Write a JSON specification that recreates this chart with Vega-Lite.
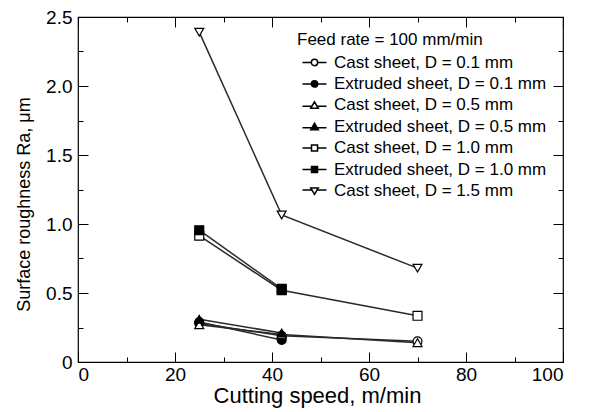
{
  "$schema": "https://vega.github.io/schema/vega-lite/v6.json",
  "width": 485,
  "height": 345,
  "autosize": {"type": "none"},
  "padding": {"left": 78, "top": 17, "right": 32, "bottom": 50},
  "background": "white",
  "config": {
    "font": "Liberation Sans",
    "view": {"stroke": "black", "strokeWidth": 1.2},
    "axis": {"domainColor": "black", "tickColor": "black", "labelColor": "black", "titleColor": "black", "labelFontSize": 19, "titleFontSize": 18, "titleFontWeight": "normal", "grid": false, "labelFont": "Liberation Sans", "titleFont": "Liberation Sans"}
  },
  "data": {"values": [
    {"speed": 25, "ra": 0.28, "series": "Cast sheet, D = 0.1 mm"},
    {"speed": 42, "ra": 0.19, "series": "Cast sheet, D = 0.1 mm"},
    {"speed": 70, "ra": 0.15, "series": "Cast sheet, D = 0.1 mm"},
    {"speed": 25, "ra": 0.29, "series": "Extruded sheet, D = 0.1 mm"},
    {"speed": 42, "ra": 0.16, "series": "Extruded sheet, D = 0.1 mm"},
    {"speed": 25, "ra": 0.27, "series": "Cast sheet, D = 0.5 mm"},
    {"speed": 42, "ra": 0.2, "series": "Cast sheet, D = 0.5 mm"},
    {"speed": 70, "ra": 0.14, "series": "Cast sheet, D = 0.5 mm"},
    {"speed": 25, "ra": 0.31, "series": "Extruded sheet, D = 0.5 mm"},
    {"speed": 42, "ra": 0.21, "series": "Extruded sheet, D = 0.5 mm"},
    {"speed": 25, "ra": 0.915, "series": "Cast sheet, D = 1.0 mm"},
    {"speed": 42, "ra": 0.52, "series": "Cast sheet, D = 1.0 mm"},
    {"speed": 70, "ra": 0.335, "series": "Cast sheet, D = 1.0 mm"},
    {"speed": 25, "ra": 0.955, "series": "Extruded sheet, D = 1.0 mm"},
    {"speed": 42, "ra": 0.53, "series": "Extruded sheet, D = 1.0 mm"},
    {"speed": 25, "ra": 2.39, "series": "Cast sheet, D = 1.5 mm"},
    {"speed": 42, "ra": 1.065, "series": "Cast sheet, D = 1.5 mm"},
    {"speed": 70, "ra": 0.68, "series": "Cast sheet, D = 1.5 mm"}
  ]},
  "resolve": {"axis": {"x": "independent", "y": "independent"}, "scale": {"shape": "independent", "fill": "independent"}},
  "layer": [
    {
      "mark": {"type": "line", "color": "#2a2a2a", "strokeWidth": 1.5},
      "encoding": {
        "x": {"field": "speed", "type": "quantitative", "scale": {"domain": [0, 100], "nice": false},
              "axis": {"orient": "bottom", "values": [0, 20, 40, 60, 80, 100], "tickSize": -10, "labelPadding": 13, "domain": false, "title": "Cutting speed, m/min", "titleFontSize": 22, "titlePadding": 1, "titleX": 239}},
        "y": {"field": "ra", "type": "quantitative", "scale": {"domain": [0, 2.5], "nice": false},
              "axis": {"orient": "left", "values": [0, 0.5, 1, 1.5, 2, 2.5], "tickSize": -10, "labelPadding": 16, "domain": false, "labelExpr": "datum.value == 0 ? '0' : format(datum.value, '.1f')", "title": "Surface roughness Ra, μm", "titlePadding": 12, "titleY": 187}},
        "detail": {"field": "series"}
      }
    },
    {
      "mark": {"type": "point", "filled": false, "size": 80, "stroke": "black", "strokeWidth": 1.2, "opacity": 1},
      "encoding": {
        "x": {"field": "speed", "type": "quantitative",
              "axis": {"orient": "bottom", "values": [10, 30, 50, 70, 90], "tickSize": -5, "labels": false, "domain": false, "title": null}},
        "y": {"field": "ra", "type": "quantitative",
              "axis": {"orient": "left", "values": [0.25, 0.75, 1.25, 1.75, 2.25], "tickSize": -5, "labels": false, "domain": false, "title": null}},
        "shape": {"field": "series", "type": "nominal", "legend": null,
                  "scale": {"domain": ["Cast sheet, D = 0.1 mm", "Extruded sheet, D = 0.1 mm", "Cast sheet, D = 0.5 mm", "Extruded sheet, D = 0.5 mm", "Cast sheet, D = 1.0 mm", "Extruded sheet, D = 1.0 mm", "Cast sheet, D = 1.5 mm"],
                            "range": ["circle", "circle", "triangle-up", "triangle-up", "square", "square", "triangle-down"]}},
        "fill": {"field": "series", "type": "nominal", "legend": null,
                 "scale": {"domain": ["Cast sheet, D = 0.1 mm", "Extruded sheet, D = 0.1 mm", "Cast sheet, D = 0.5 mm", "Extruded sheet, D = 0.5 mm", "Cast sheet, D = 1.0 mm", "Extruded sheet, D = 1.0 mm", "Cast sheet, D = 1.5 mm"],
                           "range": ["white", "black", "white", "black", "white", "black", "white"]}}
      }
    },
    {
      "mark": {"type": "point", "filled": false, "size": 80, "stroke": "black", "strokeWidth": 1.2, "opacity": 0},
      "encoding": {
        "x": {"field": "speed", "type": "quantitative",
              "axis": {"orient": "top", "values": [0, 20, 40, 60, 80, 100], "tickSize": -10, "labels": false, "domain": false, "title": null}},
        "y": {"field": "ra", "type": "quantitative",
              "axis": {"orient": "right", "values": [0, 0.5, 1, 1.5, 2, 2.5], "tickSize": -10, "labels": false, "domain": false, "title": null}},
        "shape": {"field": "series", "type": "nominal",
                  "scale": {"domain": ["Cast sheet, D = 0.1 mm", "Extruded sheet, D = 0.1 mm", "Cast sheet, D = 0.5 mm", "Extruded sheet, D = 0.5 mm", "Cast sheet, D = 1.0 mm", "Extruded sheet, D = 1.0 mm", "Cast sheet, D = 1.5 mm"],
                            "range": ["M-0.95,0H1.85M3.85,0H6.65M3.85,0A1,1,0,1,1,1.85,0A1,1,0,1,1,3.85,0Z", "M-0.95,0H1.85M3.85,0H6.65M3.85,0A1,1,0,1,1,1.85,0A1,1,0,1,1,3.85,0Z", "M-0.95,0.3H2.05M3.65,0.3H6.65M2.85,-1.1L4.05,0.95L1.65,0.95Z", "M-0.95,0.3H2.05M3.65,0.3H6.65M2.85,-1.1L4.05,0.95L1.65,0.95Z", "M-0.95,0H1.9M3.8,0H6.65M1.9,-0.95H3.8V0.95H1.9Z", "M-0.95,0H1.9M3.8,0H6.65M1.9,-0.95H3.8V0.95H1.9Z", "M-0.95,-0.3H2.05M3.65,-0.3H6.65M2.85,1.1L4.05,-0.95L1.65,-0.95Z"]},
                  "legend": {"orient": "none", "legendX": 219, "legendY": 15, "title": "Feed rate = 100 mm/min", "titleFontSize": 17, "titleFontWeight": "normal", "titleColor": "black", "titleFont": "Liberation Sans", "titleLimit": 400, "labelFont": "Liberation Sans", "labelFontSize": 17, "labelColor": "black", "labelLimit": 400, "symbolSize": 40, "symbolOpacity": 1, "labelOffset": 20, "rowPadding": 3.4, "padding": 0, "titlePadding": 5,
                             "encode": {"symbols": {"update": {"stroke": {"value": "black"}, "strokeWidth": {"value": 1.2}, "strokeOpacity": {"value": 1}, "opacity": {"value": 1}}}}}},
        "fill": {"field": "series", "type": "nominal",
                 "scale": {"domain": ["Cast sheet, D = 0.1 mm", "Extruded sheet, D = 0.1 mm", "Cast sheet, D = 0.5 mm", "Extruded sheet, D = 0.5 mm", "Cast sheet, D = 1.0 mm", "Extruded sheet, D = 1.0 mm", "Cast sheet, D = 1.5 mm"],
                           "range": ["white", "black", "white", "black", "white", "black", "white"]},
                 "legend": {"orient": "none", "legendX": 219, "legendY": 15, "title": "Feed rate = 100 mm/min", "titleFontSize": 17, "titleFontWeight": "normal", "titleColor": "black", "titleFont": "Liberation Sans", "titleLimit": 400, "labelFont": "Liberation Sans", "labelFontSize": 17, "labelColor": "black", "labelLimit": 400, "symbolSize": 40, "symbolOpacity": 1, "labelOffset": 20, "rowPadding": 3.4, "padding": 0, "titlePadding": 5,
                            "encode": {"symbols": {"update": {"stroke": {"value": "black"}, "strokeWidth": {"value": 1.2}, "strokeOpacity": {"value": 1}, "opacity": {"value": 1}}}}}}
      }
    },
    {
      "mark": {"type": "point", "opacity": 0},
      "encoding": {
        "x": {"field": "speed", "type": "quantitative",
              "axis": {"orient": "top", "values": [10, 30, 50, 70, 90], "tickSize": -5, "labels": false, "domain": false, "title": null}},
        "y": {"field": "ra", "type": "quantitative",
              "axis": {"orient": "right", "values": [0.25, 0.75, 1.25, 1.75, 2.25], "tickSize": -5, "labels": false, "domain": false, "title": null}}
      }
    }
  ]
}
